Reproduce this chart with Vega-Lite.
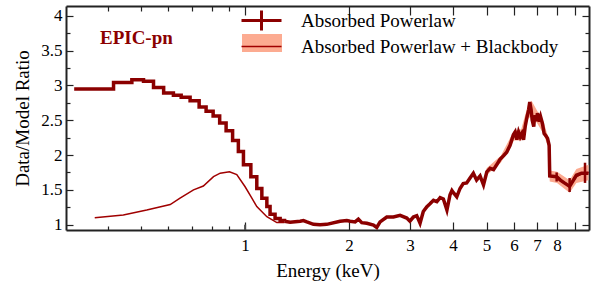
{
  "$schema": "https://vega.github.io/schema/vega-lite/v6.json",
  "width": 523,
  "height": 224,
  "autosize": {"type": "none"},
  "padding": {"left": 66, "top": 6, "right": 7, "bottom": 54},
  "background": "white",
  "config": {"view": {"stroke": null}, "font": "Liberation Serif"},
  "datasets": {
    "pl_step": [
      {"energy": 0.320, "ratio": 2.95, "series": "Absorbed Powerlaw"},
      {"energy": 0.416, "ratio": 3.04, "series": "Absorbed Powerlaw"},
      {"energy": 0.470, "ratio": 3.08, "series": "Absorbed Powerlaw"},
      {"energy": 0.508, "ratio": 3.06, "series": "Absorbed Powerlaw"},
      {"energy": 0.543, "ratio": 2.97, "series": "Absorbed Powerlaw"},
      {"energy": 0.581, "ratio": 2.89, "series": "Absorbed Powerlaw"},
      {"energy": 0.620, "ratio": 2.86, "series": "Absorbed Powerlaw"},
      {"energy": 0.653, "ratio": 2.83, "series": "Absorbed Powerlaw"},
      {"energy": 0.693, "ratio": 2.78, "series": "Absorbed Powerlaw"},
      {"energy": 0.736, "ratio": 2.69, "series": "Absorbed Powerlaw"},
      {"energy": 0.771, "ratio": 2.63, "series": "Absorbed Powerlaw"},
      {"energy": 0.808, "ratio": 2.56, "series": "Absorbed Powerlaw"},
      {"energy": 0.844, "ratio": 2.46, "series": "Absorbed Powerlaw"},
      {"energy": 0.881, "ratio": 2.35, "series": "Absorbed Powerlaw"},
      {"energy": 0.920, "ratio": 2.21, "series": "Absorbed Powerlaw"},
      {"energy": 0.956, "ratio": 2.05, "series": "Absorbed Powerlaw"},
      {"energy": 0.989, "ratio": 1.86, "series": "Absorbed Powerlaw"},
      {"energy": 1.039, "ratio": 1.69, "series": "Absorbed Powerlaw"},
      {"energy": 1.081, "ratio": 1.52, "series": "Absorbed Powerlaw"},
      {"energy": 1.118, "ratio": 1.38, "series": "Absorbed Powerlaw"},
      {"energy": 1.156, "ratio": 1.26, "series": "Absorbed Powerlaw"},
      {"energy": 1.181, "ratio": 1.15, "series": "Absorbed Powerlaw"},
      {"energy": 1.221, "ratio": 1.09, "series": "Absorbed Powerlaw"},
      {"energy": 1.263, "ratio": 1.06, "series": "Absorbed Powerlaw"},
      {"energy": 1.300, "ratio": 1.05, "series": "Absorbed Powerlaw"}
    ],
    "pl_line": [
      {"energy": 1.30, "ratio": 1.05, "series": "Absorbed Powerlaw"},
      {"energy": 1.35, "ratio": 1.035, "series": "Absorbed Powerlaw"},
      {"energy": 1.443, "ratio": 1.05, "series": "Absorbed Powerlaw"},
      {"energy": 1.475, "ratio": 1.06, "series": "Absorbed Powerlaw"},
      {"energy": 1.509, "ratio": 1.04, "series": "Absorbed Powerlaw"},
      {"energy": 1.577, "ratio": 1.005, "series": "Absorbed Powerlaw"},
      {"energy": 1.648, "ratio": 1.0, "series": "Absorbed Powerlaw"},
      {"energy": 1.723, "ratio": 1.005, "series": "Absorbed Powerlaw"},
      {"energy": 1.884, "ratio": 1.05, "series": "Absorbed Powerlaw"},
      {"energy": 1.970, "ratio": 1.06, "series": "Absorbed Powerlaw"},
      {"energy": 2.013, "ratio": 1.05, "series": "Absorbed Powerlaw"},
      {"energy": 2.082, "ratio": 1.04, "series": "Absorbed Powerlaw"},
      {"energy": 2.128, "ratio": 1.08, "series": "Absorbed Powerlaw"},
      {"energy": 2.176, "ratio": 1.03, "series": "Absorbed Powerlaw"},
      {"energy": 2.251, "ratio": 1.02, "series": "Absorbed Powerlaw"},
      {"energy": 2.353, "ratio": 0.995, "series": "Absorbed Powerlaw"},
      {"energy": 2.405, "ratio": 0.96, "series": "Absorbed Powerlaw"},
      {"energy": 2.459, "ratio": 1.04, "series": "Absorbed Powerlaw"},
      {"energy": 2.571, "ratio": 1.11, "series": "Absorbed Powerlaw"},
      {"energy": 2.688, "ratio": 1.11, "series": "Absorbed Powerlaw"},
      {"energy": 2.810, "ratio": 1.135, "series": "Absorbed Powerlaw"},
      {"energy": 2.938, "ratio": 1.095, "series": "Absorbed Powerlaw"},
      {"energy": 3.00, "ratio": 1.05, "series": "Absorbed Powerlaw"},
      {"energy": 3.07, "ratio": 1.11, "series": "Absorbed Powerlaw"},
      {"energy": 3.14, "ratio": 1.13, "series": "Absorbed Powerlaw"},
      {"energy": 3.21, "ratio": 1.02, "series": "Absorbed Powerlaw"},
      {"energy": 3.28, "ratio": 1.19, "series": "Absorbed Powerlaw"},
      {"energy": 3.36, "ratio": 1.26, "series": "Absorbed Powerlaw"},
      {"energy": 3.43, "ratio": 1.30, "series": "Absorbed Powerlaw"},
      {"energy": 3.51, "ratio": 1.35, "series": "Absorbed Powerlaw"},
      {"energy": 3.59, "ratio": 1.33, "series": "Absorbed Powerlaw"},
      {"energy": 3.67, "ratio": 1.39, "series": "Absorbed Powerlaw"},
      {"energy": 3.75, "ratio": 1.37, "series": "Absorbed Powerlaw"},
      {"energy": 3.84, "ratio": 1.21, "series": "Absorbed Powerlaw"},
      {"energy": 3.92, "ratio": 1.43, "series": "Absorbed Powerlaw"},
      {"energy": 3.97, "ratio": 1.49, "series": "Absorbed Powerlaw"},
      {"energy": 4.01, "ratio": 1.46, "series": "Absorbed Powerlaw"},
      {"energy": 4.10, "ratio": 1.40, "series": "Absorbed Powerlaw"},
      {"energy": 4.19, "ratio": 1.52, "series": "Absorbed Powerlaw"},
      {"energy": 4.28, "ratio": 1.59, "series": "Absorbed Powerlaw"},
      {"energy": 4.38, "ratio": 1.60, "series": "Absorbed Powerlaw"},
      {"energy": 4.48, "ratio": 1.67, "series": "Absorbed Powerlaw"},
      {"energy": 4.58, "ratio": 1.74, "series": "Absorbed Powerlaw"},
      {"energy": 4.68, "ratio": 1.64, "series": "Absorbed Powerlaw"},
      {"energy": 4.79, "ratio": 1.70, "series": "Absorbed Powerlaw"},
      {"energy": 4.90, "ratio": 1.57, "series": "Absorbed Powerlaw"},
      {"energy": 5.01, "ratio": 1.76, "series": "Absorbed Powerlaw"},
      {"energy": 5.12, "ratio": 1.81, "series": "Absorbed Powerlaw"},
      {"energy": 5.24, "ratio": 1.79, "series": "Absorbed Powerlaw"},
      {"energy": 5.35, "ratio": 1.86, "series": "Absorbed Powerlaw"},
      {"energy": 5.47, "ratio": 1.94, "series": "Absorbed Powerlaw"},
      {"energy": 5.60, "ratio": 1.99, "series": "Absorbed Powerlaw"},
      {"energy": 5.72, "ratio": 2.04, "series": "Absorbed Powerlaw"},
      {"energy": 5.85, "ratio": 2.14, "series": "Absorbed Powerlaw"},
      {"energy": 5.98, "ratio": 2.29, "series": "Absorbed Powerlaw"},
      {"energy": 6.05, "ratio": 2.33, "series": "Absorbed Powerlaw"},
      {"energy": 6.12, "ratio": 2.22, "series": "Absorbed Powerlaw"},
      {"energy": 6.19, "ratio": 2.33, "series": "Absorbed Powerlaw"},
      {"energy": 6.26, "ratio": 2.26, "series": "Absorbed Powerlaw"},
      {"energy": 6.33, "ratio": 2.31, "series": "Absorbed Powerlaw"},
      {"energy": 6.40, "ratio": 2.22, "series": "Absorbed Powerlaw"},
      {"energy": 6.47, "ratio": 2.41, "series": "Absorbed Powerlaw"},
      {"energy": 6.55, "ratio": 2.55, "series": "Absorbed Powerlaw"},
      {"energy": 6.62, "ratio": 2.65, "series": "Absorbed Powerlaw"},
      {"energy": 6.67, "ratio": 2.76, "series": "Absorbed Powerlaw"},
      {"energy": 6.73, "ratio": 2.65, "series": "Absorbed Powerlaw"},
      {"energy": 6.78, "ratio": 2.50, "series": "Absorbed Powerlaw"},
      {"energy": 6.85, "ratio": 2.41, "series": "Absorbed Powerlaw"},
      {"energy": 6.89, "ratio": 2.57, "series": "Absorbed Powerlaw"},
      {"energy": 6.97, "ratio": 2.49, "series": "Absorbed Powerlaw"},
      {"energy": 7.02, "ratio": 2.60, "series": "Absorbed Powerlaw"},
      {"energy": 7.11, "ratio": 2.48, "series": "Absorbed Powerlaw"},
      {"energy": 7.17, "ratio": 2.55, "series": "Absorbed Powerlaw"},
      {"energy": 7.26, "ratio": 2.45, "series": "Absorbed Powerlaw"},
      {"energy": 7.34, "ratio": 2.31, "series": "Absorbed Powerlaw"},
      {"energy": 7.42, "ratio": 2.28, "series": "Absorbed Powerlaw"},
      {"energy": 7.51, "ratio": 2.24, "series": "Absorbed Powerlaw"},
      {"energy": 7.59, "ratio": 2.14, "series": "Absorbed Powerlaw"},
      {"energy": 7.62, "ratio": 1.70, "series": "Absorbed Powerlaw"},
      {"energy": 7.98, "ratio": 1.69, "series": "Absorbed Powerlaw"},
      {"energy": 8.18, "ratio": 1.64, "series": "Absorbed Powerlaw"},
      {"energy": 8.40, "ratio": 1.60, "series": "Absorbed Powerlaw"},
      {"energy": 8.70, "ratio": 1.55, "series": "Absorbed Powerlaw"},
      {"energy": 9.10, "ratio": 1.71, "series": "Absorbed Powerlaw"},
      {"energy": 9.42, "ratio": 1.74, "series": "Absorbed Powerlaw"},
      {"energy": 9.87, "ratio": 1.74, "series": "Absorbed Powerlaw"}
    ],
    "bb": [
      {"energy": 0.367, "ratio": 1.10, "seg": "low", "series": "Absorbed Powerlaw + Blackbody"},
      {"energy": 0.444, "ratio": 1.14, "seg": "low", "series": "Absorbed Powerlaw + Blackbody"},
      {"energy": 0.519, "ratio": 1.21, "seg": "low", "series": "Absorbed Powerlaw + Blackbody"},
      {"energy": 0.607, "ratio": 1.29, "seg": "low", "series": "Absorbed Powerlaw + Blackbody"},
      {"energy": 0.648, "ratio": 1.38, "seg": "low", "series": "Absorbed Powerlaw + Blackbody"},
      {"energy": 0.709, "ratio": 1.50, "seg": "low", "series": "Absorbed Powerlaw + Blackbody"},
      {"energy": 0.757, "ratio": 1.555, "seg": "low", "series": "Absorbed Powerlaw + Blackbody"},
      {"energy": 0.810, "ratio": 1.69, "seg": "low", "series": "Absorbed Powerlaw + Blackbody"},
      {"energy": 0.847, "ratio": 1.74, "seg": "low", "series": "Absorbed Powerlaw + Blackbody"},
      {"energy": 0.901, "ratio": 1.76, "seg": "low", "series": "Absorbed Powerlaw + Blackbody"},
      {"energy": 0.946, "ratio": 1.72, "seg": "low", "series": "Absorbed Powerlaw + Blackbody"},
      {"energy": 1.000, "ratio": 1.545, "seg": "low", "series": "Absorbed Powerlaw + Blackbody"},
      {"energy": 1.041, "ratio": 1.40, "seg": "low", "series": "Absorbed Powerlaw + Blackbody"},
      {"energy": 1.081, "ratio": 1.26, "seg": "low", "series": "Absorbed Powerlaw + Blackbody"},
      {"energy": 1.156, "ratio": 1.115, "seg": "low", "series": "Absorbed Powerlaw + Blackbody"},
      {"energy": 1.235, "ratio": 1.03, "seg": "low", "series": "Absorbed Powerlaw + Blackbody"},
      {"energy": 1.300, "ratio": 1.03, "seg": "low", "series": "Absorbed Powerlaw + Blackbody"},
      {"energy": 7.51, "ratio": 2.24, "seg": "high", "series": "Absorbed Powerlaw + Blackbody"},
      {"energy": 7.59, "ratio": 2.14, "seg": "high", "series": "Absorbed Powerlaw + Blackbody"},
      {"energy": 7.62, "ratio": 1.70, "seg": "high", "series": "Absorbed Powerlaw + Blackbody"},
      {"energy": 7.98, "ratio": 1.68, "seg": "high", "series": "Absorbed Powerlaw + Blackbody"},
      {"energy": 8.40, "ratio": 1.60, "seg": "high", "series": "Absorbed Powerlaw + Blackbody"},
      {"energy": 8.70, "ratio": 1.55, "seg": "high", "series": "Absorbed Powerlaw + Blackbody"},
      {"energy": 9.10, "ratio": 1.69, "seg": "high", "series": "Absorbed Powerlaw + Blackbody"},
      {"energy": 9.42, "ratio": 1.73, "seg": "high", "series": "Absorbed Powerlaw + Blackbody"},
      {"energy": 9.87, "ratio": 1.75, "seg": "high", "series": "Absorbed Powerlaw + Blackbody"}
    ],
    "band": [
      {"energy": 5.0, "lo": 1.71, "hi": 1.81, "series": "Absorbed Powerlaw + Blackbody"},
      {"energy": 5.5, "lo": 1.89, "hi": 1.99, "series": "Absorbed Powerlaw + Blackbody"},
      {"energy": 6.0, "lo": 2.21, "hi": 2.35, "series": "Absorbed Powerlaw + Blackbody"},
      {"energy": 6.3, "lo": 2.21, "hi": 2.37, "series": "Absorbed Powerlaw + Blackbody"},
      {"energy": 6.6, "lo": 2.52, "hi": 2.73, "series": "Absorbed Powerlaw + Blackbody"},
      {"energy": 6.75, "lo": 2.56, "hi": 2.78, "series": "Absorbed Powerlaw + Blackbody"},
      {"energy": 7.0, "lo": 2.46, "hi": 2.64, "series": "Absorbed Powerlaw + Blackbody"},
      {"energy": 7.3, "lo": 2.31, "hi": 2.49, "series": "Absorbed Powerlaw + Blackbody"},
      {"energy": 7.55, "lo": 2.11, "hi": 2.25, "series": "Absorbed Powerlaw + Blackbody"},
      {"energy": 7.62, "lo": 1.62, "hi": 1.78, "series": "Absorbed Powerlaw + Blackbody"},
      {"energy": 8.0, "lo": 1.60, "hi": 1.76, "series": "Absorbed Powerlaw + Blackbody"},
      {"energy": 8.7, "lo": 1.46, "hi": 1.64, "series": "Absorbed Powerlaw + Blackbody"},
      {"energy": 9.1, "lo": 1.60, "hi": 1.80, "series": "Absorbed Powerlaw + Blackbody"},
      {"energy": 9.87, "lo": 1.64, "hi": 1.86, "series": "Absorbed Powerlaw + Blackbody"}
    ],
    "errs": [
      {"energy": 7.98, "lo": 1.62, "hi": 1.75},
      {"energy": 8.70, "lo": 1.47, "hi": 1.67},
      {"energy": 9.64, "lo": 1.60, "hi": 1.89}
    ],
    "note": [{"label": "EPIC-pn"}],
    "unity": [{"ratio": 1}]
  },
  "resolve": {"axis": {"x": "independent", "y": "independent"}},
  "layer": [
    {
      "data": {"name": "unity"},
      "mark": {"type": "rule", "color": "#4a4a4a", "strokeWidth": 2},
      "encoding": {
        "y": {
          "field": "ratio", "type": "quantitative",
          "scale": {"domain": [0.924, 4.14], "nice": false, "zero": false},
          "axis": {
            "orient": "left",
            "values": [1, 1.25, 1.5, 1.75, 2, 2.25, 2.5, 2.75, 3, 3.25, 3.5, 3.75, 4],
            "labelExpr": "(datum.value * 2) % 1 == 0 ? format(datum.value, '~g') : ''",
            "tickSize": {"condition": {"test": "(datum.value * 2) % 1 == 0", "value": -7}, "value": -4},
            "tickColor": "#222", "tickWidth": 1.2,
            "domainColor": "#222", "domainWidth": 2,
            "labelFont": "Liberation Serif", "labelFontSize": 17, "labelColor": "#000",
            "labelPadding": 11, "labelOverlap": false, "labelFlush": false,
            "grid": false,
            "title": "Data/Model Ratio",
            "titleFont": "Liberation Serif", "titleFontSize": 19, "titleFontWeight": "normal",
            "titleColor": "#000", "titlePadding": 8
          }
        },
        "x": {
          "datum": 1, "type": "quantitative",
          "scale": {"type": "log", "domain": [0.303, 9.9], "nice": false, "zero": false},
          "axis": {
            "orient": "bottom",
            "values": [0.4, 0.5, 0.6, 0.7, 0.8, 0.9, 1, 2, 3, 4, 5, 6, 7, 8, 9],
            "labelExpr": "datum.value >= 1 && datum.value <= 8 ? format(datum.value, 'd') : ''",
            "tickSize": {"condition": {"test": "datum.value < 1", "value": -4}, "value": -8},
            "tickColor": "#222", "tickWidth": 1.2,
            "domainColor": "#222", "domainWidth": 2,
            "labelFont": "Liberation Serif", "labelFontSize": 17, "labelColor": "#000",
            "labelPadding": 15, "labelOverlap": false, "labelFlush": false,
            "grid": false,
            "title": "Energy (keV)",
            "titleFont": "Liberation Serif", "titleFontSize": 19, "titleFontWeight": "normal",
            "titleColor": "#000", "titlePadding": 4
          }
        }
      }
    },
    {
      "data": {"name": "band"},
      "mark": {"type": "area", "opacity": 1},
      "encoding": {
        "x": {"field": "energy", "type": "quantitative", "scale": {"type": "log", "domain": [0.303, 9.9], "nice": false, "zero": false}, "axis": null},
        "y": {"field": "lo", "type": "quantitative", "scale": {"domain": [0.924, 4.14], "nice": false, "zero": false}, "axis": null},
        "y2": {"field": "hi"},
        "fill": {
          "field": "series", "type": "nominal",
          "scale": {"range": ["#fcab91"]},
          "legend": {
            "orient": "none", "legendX": 186, "legendY": 27, "title": null,
            "padding": 0, "rowPadding": 0,
            "symbolType": "M-2,-0.9H2V0.9H-2Z", "symbolSize": 400, "symbolStrokeWidth": 0,
            "labelOffset": 30, "labelFont": "Liberation Serif", "labelFontSize": 19,
            "labelExpr": "''", "labelLimit": 400, "zindex": 0
          }
        }
      }
    },
    {
      "data": {"name": "bb"},
      "mark": {"type": "line", "strokeWidth": 1.5},
      "encoding": {
        "x": {"field": "energy", "type": "quantitative", "scale": {"type": "log", "domain": [0.303, 9.9], "nice": false, "zero": false}, "axis": null},
        "y": {"field": "ratio", "type": "quantitative", "scale": {"domain": [0.924, 4.14], "nice": false, "zero": false}, "axis": null},
        "detail": {"field": "seg"},
        "stroke": {
          "field": "series", "type": "nominal",
          "scale": {"domain": ["Absorbed Powerlaw", "Absorbed Powerlaw + Blackbody"], "range": ["#8b0000", "#a00000"]},
          "legend": {
            "orient": "none", "legendX": 186, "legendY": 5, "title": null,
            "padding": 0, "rowPadding": 0,
            "symbolSize": 400, "symbolStrokeWidth": 1.5,
            "labelOffset": 30, "labelFont": "Liberation Serif", "labelFontSize": 19,
            "labelColor": "#000", "labelLimit": 400, "zindex": 1,
            "encode": {
              "symbols": {
                "update": {
                  "shape": {"signal": "datum.value === 'Absorbed Powerlaw' ? 'M-2,0H2M0,-1V1' : 'M-2,0H2'"},
                  "strokeWidth": {"signal": "datum.value === 'Absorbed Powerlaw' ? 3 : 1.5"}
                }
              }
            }
          }
        }
      }
    },
    {
      "data": {"name": "pl_step"},
      "mark": {"type": "line", "interpolate": "step-after", "strokeWidth": 3.5},
      "encoding": {
        "x": {"field": "energy", "type": "quantitative", "scale": {"type": "log", "domain": [0.303, 9.9], "nice": false, "zero": false}, "axis": null},
        "y": {"field": "ratio", "type": "quantitative", "scale": {"domain": [0.924, 4.14], "nice": false, "zero": false}, "axis": null},
        "stroke": {"field": "series", "type": "nominal"}
      }
    },
    {
      "data": {"name": "pl_line"},
      "mark": {"type": "line", "strokeWidth": 3.5},
      "encoding": {
        "x": {"field": "energy", "type": "quantitative", "scale": {"type": "log", "domain": [0.303, 9.9], "nice": false, "zero": false}, "axis": null},
        "y": {"field": "ratio", "type": "quantitative", "scale": {"domain": [0.924, 4.14], "nice": false, "zero": false}, "axis": null},
        "stroke": {"field": "series", "type": "nominal"}
      }
    },
    {
      "data": {"name": "errs"},
      "mark": {"type": "rule", "color": "#8b0000", "strokeWidth": 2.5},
      "encoding": {
        "x": {
          "field": "energy", "type": "quantitative",
          "scale": {"type": "log", "domain": [0.303, 9.9], "nice": false, "zero": false},
          "axis": {
            "orient": "top",
            "values": [0.4, 0.5, 0.6, 0.7, 0.8, 0.9, 1, 2, 3, 4, 5, 6, 7, 8, 9],
            "labels": false, "title": null, "grid": false,
            "tickSize": {"condition": {"test": "datum.value < 1", "value": -5}, "value": -9},
            "tickColor": "#222", "tickWidth": 1.2,
            "domainColor": "#222", "domainWidth": 2
          }
        },
        "y": {
          "field": "lo", "type": "quantitative",
          "scale": {"domain": [0.924, 4.14], "nice": false, "zero": false},
          "axis": {
            "orient": "right",
            "values": [1, 1.25, 1.5, 1.75, 2, 2.25, 2.5, 2.75, 3, 3.25, 3.5, 3.75, 4],
            "labels": false, "title": null, "grid": false,
            "tickSize": {"condition": {"test": "(datum.value * 2) % 1 == 0", "value": -7}, "value": -4},
            "tickColor": "#222", "tickWidth": 1.2,
            "domainColor": "#222", "domainWidth": 2
          }
        },
        "y2": {"field": "hi"}
      }
    },
    {
      "data": {"name": "note"},
      "mark": {"type": "text", "align": "left", "baseline": "middle", "font": "Liberation Serif", "fontWeight": "bold", "fontSize": 19, "color": "#8b0000"},
      "encoding": {
        "x": {"datum": 0.38, "type": "quantitative", "scale": {"type": "log", "domain": [0.303, 9.9], "nice": false, "zero": false}, "axis": null},
        "y": {"datum": 3.68, "type": "quantitative", "scale": {"domain": [0.924, 4.14], "nice": false, "zero": false}, "axis": null},
        "text": {"field": "label"}
      }
    }
  ]
}
